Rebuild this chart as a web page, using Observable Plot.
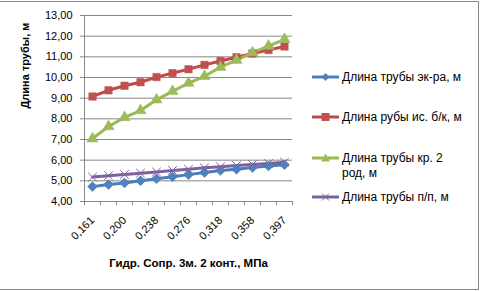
<!DOCTYPE html>
<html><head><meta charset="utf-8">
<script src="https://cdn.jsdelivr.net/npm/d3@7"></script>
<script src="https://cdn.jsdelivr.net/npm/@observablehq/plot@0.6"></script>
<style>
body{margin:0;background:#fff;font-family:"Liberation Sans",Arial,sans-serif;}
#wrap{position:relative;width:482px;height:291px;overflow:hidden;}
#border{position:absolute;left:-2px;top:1px;width:480px;height:287px;border:1px solid #878787;border-left:none;}
.leg{position:absolute;left:312px;display:flex;align-items:flex-start;font-size:12px;color:#000;line-height:14.5px;}
.leg svg{flex:none;margin-right:3px;}
</style></head>
<body><div id="wrap"><div id="border"></div></div>
<script>
const categories = ["0,161","0,180","0,200","0,219","0,238","0,257","0,276","0,297","0,318","0,338","0,358","0,377","0,397"];
const ekra = [4.72,4.82,4.90,5.00,5.10,5.20,5.30,5.40,5.50,5.56,5.64,5.72,5.78];
const isbk = [9.08,9.38,9.60,9.77,10.02,10.21,10.40,10.61,10.80,10.98,11.16,11.33,11.50];
const kr2 = [7.04,7.63,8.07,8.40,8.92,9.33,9.73,10.06,10.50,10.84,11.20,11.52,11.85];
const pp = [5.18,5.25,5.31,5.37,5.43,5.50,5.56,5.63,5.68,5.74,5.79,5.84,5.90];
const seriesNames = ["Длина трубы эк-ра, м","Длина рубы ис. б/к, м","Длина трубы кр. 2 род, м","Длина трубы п/п, м"];
const yTicks = [4,5,6,7,8,9,10,11,12,13];
const yTitle = "Длина трубы, м";
const xTitle = "Гидр. Сопр. 3м. 2 конт., МПа";

const colors = ["#4A7EBB","#BE4B48","#98B954","#7D60A0"];
const markColors = ["#4F81BD","#C0504D","#9BBB59","#8064A2"];
const symbols = ["diamond2","square","triangle","times"];
const values = [ekra, isbk, kr2, pp];
const series = values.map((v,s)=>v.map((y,i)=>({i, y, s})));

const marks = [
  Plot.gridY(yTicks.slice(1), {stroke:"#878787", strokeOpacity:1}),
  Plot.ruleY([4], {stroke:"#878787"}),
  Plot.ruleX([-0.5], {y1:4, y2:13, stroke:"#878787"}),
  Plot.axisY({ticks: yTicks, tickFormat: d => d.toFixed(2).replace(".", ","), tickSize: 4, tickPadding: 8, stroke:"#878787", fill:"#000", label:null, fontSize:11}),
  Plot.axisX({ticks: d3.range(-0.5, 13, 1), tickFormat: () => "", tickSize: 4, stroke:"#878787", label:null}),
  Plot.axisX({ticks: d3.range(0, 13, 2), tickFormat: i => categories[i], tickSize: 0, tickRotate: -45, tickPadding: 17, fill:"#000", label:null, fontSize:11}),
  Plot.text([yTitle], {frameAnchor:"left", dx:-59, rotate:-90, text:d=>d, fontWeight:"bold", fontSize:11, fill:"#000"}),
  Plot.text([xTitle], {frameAnchor:"bottom", dy:65, text:d=>d, fontWeight:"bold", fontSize:11.5, fill:"#000"})
];
series.forEach((d,s)=>{
  marks.push(Plot.line(d, {x:"i", y:"y", stroke:colors[s], strokeWidth:3}));
});
series.forEach((d,s)=>{
  if (symbols[s]==="times") marks.push(Plot.dot(d, {x:"i", y:"y", symbol:"times", r:4, stroke:markColors[s], strokeWidth:1}));
  else marks.push(Plot.dot(d, {x:"i", y:"y", symbol:symbols[s], r: s===0?4.5:4.2, fill:markColors[s], stroke:markColors[s], strokeWidth:0.5}));
});

const chart = Plot.plot({
  width:482, height:291,
  marginLeft:84, marginRight:190, marginTop:15, marginBottom:90,
  style:{fontFamily:"Liberation Sans, Arial, sans-serif", fontSize:"11px", color:"#000", background:"transparent"},
  x:{type:"linear", domain:[-0.5,12.5]},
  y:{domain:[4,13]},
  marks
});
chart.style.position="absolute"; chart.style.left="0"; chart.style.top="0";
const wrap = document.getElementById("wrap");
wrap.appendChild(chart);

const legTops = [70, 110, 151, 190];
const legLines = [[seriesNames[0]],[seriesNames[1]],["Длина трубы кр. 2","род, м"],[seriesNames[3]]];
function markerSvg(s){
  const c = colors[s], m = markColors[s];
  let sym = "";
  if (s===0) sym = `<path d="M13.5,3 L17.5,7 L13.5,11 L9.5,7Z" fill="${m}"/>`;
  if (s===1) sym = `<rect x="9.5" y="3" width="8" height="8" fill="${m}"/>`;
  if (s===2) sym = `<path d="M13.5,2.5 L18,10.5 L9,10.5Z" fill="${m}"/>`;
  if (s===3) sym = `<path d="M10,3.5 L17,10.5 M17,3.5 L10,10.5" stroke="${m}" stroke-width="1"/>`;
  return `<svg width="27" height="14"><line x1="0" x2="27" y1="7" y2="7" stroke="${c}" stroke-width="3"/>${sym}</svg>`;
}
legTops.forEach((t,s)=>{
  const div = document.createElement("div");
  div.className="leg"; div.style.top=t+"px";
  div.innerHTML = markerSvg(s) + `<div>${legLines[s].join("<br>")}</div>`;
  wrap.appendChild(div);
});
</script></body></html>
